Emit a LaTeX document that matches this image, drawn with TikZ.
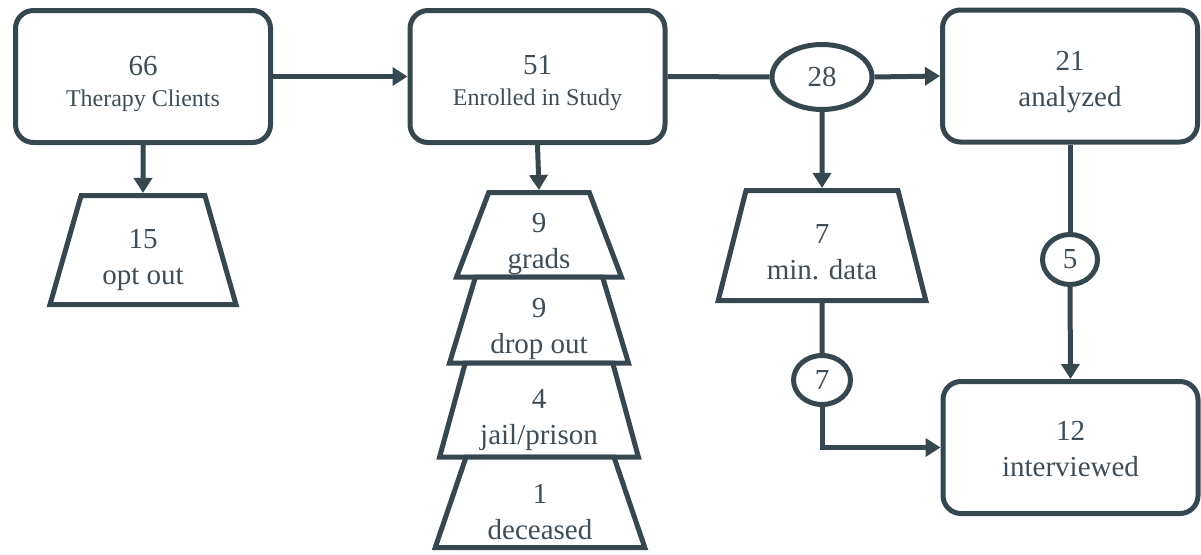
\documentclass[tikz,border=0pt]{standalone}
\usepackage{fontspec}
\setmainfont{LiberationSerif}[Extension=.ttf,UprightFont=*-Regular,BoldFont=*-Bold]
\usetikzlibrary{shapes.geometric,arrows.meta}
\definecolor{slate}{HTML}{37474F}
\definecolor{slatetext}{HTML}{3E4D57}
% lift of first line, first line, extra skip, second line
\newcommand{\twolines}[4]{\rule{0pt}{#1}#2\\[#3]#4\rule[-7pt]{0pt}{7pt}}

\begin{document}
\begin{tikzpicture}[x=1pt,y=-1pt,
  box/.style={draw=slate,line width=5pt,fill=white,rounded corners=18pt,
    minimum width=255pt,minimum height=132pt,inner sep=0pt,align=center,
    text=slatetext,font=\rmfamily\fontsize{29}{36}\selectfont},
  trap/.style={trapezium,trapezium left angle=76,trapezium right angle=76,
    trapezium stretches=true,draw=slate,line width=5pt,fill=white,
    inner sep=0pt,align=center,text=slatetext,font=\rmfamily\fontsize{29}{36}\selectfont},
  oval/.style={ellipse,draw=slate,line width=5pt,fill=white,inner sep=0pt,
    text=slatetext,font=\rmfamily\fontsize{29}{36}\selectfont},
  link/.style={draw=slate,line width=5pt},
  flow/.style={link,-{Triangle[length=15pt,width=18pt]}}]
 \useasboundingbox (0,0) rectangle (1201,554);
 % main boxes
 \node[box] (clients) at (143,76.5) {\twolines{35pt}{66}{-5pt}{{\fontsize{24}{30}\selectfont Therapy Clients}}};
 \node[box] (enrolled) at (537.5,76.5) {\twolines{33pt}{51}{-5pt}{{\fontsize{24}{30}\selectfont Enrolled in Study}}};
 \node[box] (analyzed) at (1070,76) {\twolines{31pt}{21}{0pt}{analyzed}};
 \node[box] (interviewed) at (1070.5,447.5) {\twolines{28pt}{12}{0pt}{interviewed}};
 % counts on the way
 \node[oval,minimum width=100pt,minimum height=65pt] (split) at (822,77) {28};
 \node[oval,minimum width=55pt,minimum height=50pt] (five) at (1070,259.5) {5};
 \node[oval,minimum width=57pt,minimum height=49pt] (seven) at (822,380) {7};
 % losses
 \node[trap,minimum width=186pt,minimum height=109pt] (optout) at (143,250) {\twolines{39pt}{15}{0pt}{opt out}};
 \node[trap,minimum width=208pt,minimum height=110pt] (mindata) at (822,245.5) {\twolines{38pt}{7}{0pt}{min. data}};
 \node[trap,minimum width=165pt,minimum height=84.5pt] (grads) at (539,234.75) {\twolines{37.5pt}{9}{0pt}{grads}};
 \node[trap,minimum width=179pt,minimum height=86pt] (dropout) at (539,320) {\twolines{37pt}{9}{0pt}{drop out}};
 \node[trap,minimum width=199pt,minimum height=94pt] (jail) at (539,410) {\twolines{39pt}{4}{0pt}{jail/prison}};
 \node[trap,minimum width=210pt,minimum height=90.5pt] (deceased) at (540,502.25) {\twolines{44.5pt}{1}{0pt}{deceased}};
 % connectors
 \draw[flow] (clients) -- (enrolled);
 \draw[flow] (clients.south) -- (optout.north);
 \draw[flow] (enrolled.south) -- (grads.north);
 \draw[link] (enrolled.east) -- (split.west);
 \draw[flow] (split.east) -- (analyzed.west);
 \draw[flow] (split.south) -- (mindata.north);
 \draw[link] (analyzed.south) -- (five.north);
 \draw[flow] (five.south) -- (interviewed.north);
 \draw[link] (mindata.south) -- (seven.north);
 \draw[flow] (seven.south) |- (interviewed.west);
\end{tikzpicture}
\end{document}
